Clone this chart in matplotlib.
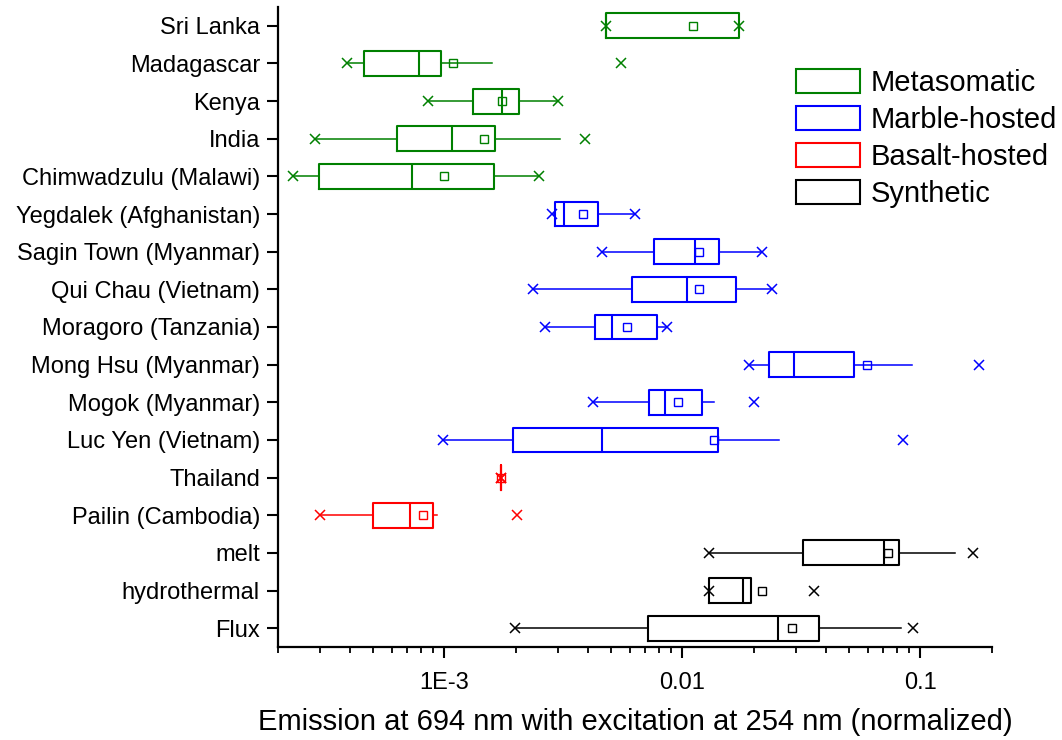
import matplotlib
matplotlib.use("Agg")
import matplotlib.pyplot as plt
from matplotlib.patches import Patch
import numpy as np

plt.rcParams['font.family'] = ['Liberation Sans', 'DejaVu Sans']

categories = ["Sri Lanka", "Madagascar", "Kenya", "India", "Chimwadzulu (Malawi)",
              "Yegdalek (Afghanistan)", "Sagin Town (Myanmar)", "Qui Chau (Vietnam)",
              "Moragoro (Tanzania)", "Mong Hsu (Myanmar)", "Mogok (Myanmar)",
              "Luc Yen (Vietnam)", "Thailand", "Pailin (Cambodia)",
              "melt", "hydrothermal", "Flux"]
groups = ["Metasomatic"] * 5 + ["Marble-hosted"] * 7 + ["Basalt-hosted"] * 2 + ["Synthetic"] * 3

vmin   = [4.77e-3, 3.89e-4, 8.52e-4, 2.86e-4, 2.32e-4,
          2.83e-3, 4.58e-3, 2.36e-3, 2.65e-3, 0.01906, 4.23e-3, 9.90e-4,
          1.736e-3, 3.00e-4,
          0.01295, 0.0130, 1.98e-3]
whislo = [4.77e-3, 3.89e-4, 8.52e-4, 2.86e-4, 2.32e-4,
          2.83e-3, 4.58e-3, 2.36e-3, 2.65e-3, 0.01906, 4.23e-3, 9.90e-4,
          1.736e-3, 3.00e-4,
          0.01295, 0.0130, 1.98e-3]
q1     = [4.77e-3, 4.60e-4, 1.316e-3, 6.33e-4, 2.98e-4,
          2.93e-3, 7.61e-3, 6.13e-3, 4.30e-3, 0.02312, 7.21e-3, 1.944e-3,
          1.736e-3, 5.00e-4,
          0.03214, 0.0130, 7.15e-3]
median = [4.77e-3, 7.85e-4, 1.747e-3, 1.074e-3, 7.30e-4,
          3.18e-3, 0.01131, 0.01043, 5.07e-3, 0.02937, 8.44e-3, 4.59e-3,
          1.736e-3, 7.17e-4,
          0.07039, 0.01794, 0.02532]
q3     = [0.01736, 9.71e-4, 2.066e-3, 1.628e-3, 1.617e-3,
          4.41e-3, 0.01430, 0.01686, 7.85e-3, 0.05250, 0.01214, 0.01413,
          1.736e-3, 8.99e-4,
          0.0816, 0.01944, 0.03752]
whishi = [0.01736, 1.58e-3, 3.013e-3, 3.065e-3, 2.49e-3,
          6.33e-3, 0.02156, 0.02382, 8.65e-3, 0.0920, 0.01363, 0.02556,
          1.736e-3, 9.29e-4,
          0.1400, 0.01944, 0.0827]
vmax   = [0.01736, 5.51e-3, 3.013e-3, 3.91e-3, 2.49e-3,
          6.33e-3, 0.02156, 0.02382, 8.65e-3, 0.1759, 0.01995, 0.0848,
          1.736e-3, 2.026e-3,
          0.1670, 0.03586, 0.0929]
mean   = [0.01106, 1.088e-3, 1.74e-3, 1.473e-3, 9.94e-4,
          3.83e-3, 0.01173, 0.01174, 5.87e-3, 0.05953, 9.57e-3, 0.01363,
          1.736e-3, 8.14e-4,
          0.0730, 0.02156, 0.02883]

group_colors = {"Metasomatic": "#008000", "Marble-hosted": "#0000FF",
                "Basalt-hosted": "#FF0000", "Synthetic": "#000000"}
legend_order = ["Metasomatic", "Marble-hosted", "Basalt-hosted", "Synthetic"]

fig = plt.figure(figsize=(10.62, 7.40), dpi=100)
ax = fig.add_axes([278/1062, 1 - 647/740, (992 - 278)/1062, (647 - 7)/740])

n = len(categories)
positions = np.arange(n, 0, -1)

for i in range(n):
    c = group_colors[groups[i]]
    st = dict(med=median[i], q1=q1[i], q3=q3[i], whislo=whislo[i], whishi=whishi[i],
              mean=mean[i], fliers=np.array([vmin[i], vmax[i]]), label=categories[i])
    ax.bxp([st], positions=[positions[i]], vert=False, widths=0.66,
           showmeans=True, showcaps=False, showfliers=True, patch_artist=False,
           boxprops=dict(color=c, linewidth=1.5),
           medianprops=dict(color=c, linewidth=1.5),
           whiskerprops=dict(color=c, linewidth=1.1),
           flierprops=dict(marker='x', markeredgecolor=c, markersize=7.5, markeredgewidth=1.1,
                           linestyle='none'),
           meanprops=dict(marker='s', markerfacecolor='none', markeredgecolor=c,
                          markersize=6, markeredgewidth=1.0))

ax.set_xscale('log')
ax.set_xlim(2e-4, 0.2)
ax.set_ylim(0.5, n + 0.5)
ax.set_yticks(positions)
ax.set_yticklabels(categories, fontsize=17)

ax.set_xticks([1e-3, 1e-2, 1e-1])
ax.set_xticklabels(["1E-3", "0.01", "0.1"], fontsize=17)
ax.xaxis.set_minor_locator(matplotlib.ticker.LogLocator(base=10, subs=np.arange(2, 10), numticks=20))
ax.xaxis.set_minor_formatter(matplotlib.ticker.NullFormatter())

ax.tick_params(axis='both', which='major', direction='out', length=8, width=1.5, colors='black')
ax.tick_params(axis='x', which='minor', direction='out', length=4.5, width=1.3)
ax.tick_params(axis='x', which='major', pad=10)
ax.tick_params(axis='y', which='major', pad=5)

for s in ['top', 'right']:
    ax.spines[s].set_visible(False)
for s in ['left', 'bottom']:
    ax.spines[s].set_linewidth(1.6)

ax.set_xlabel("Emission at 694 nm with excitation at 254 nm (normalized)", fontsize=21, labelpad=10)

handles = [Patch(facecolor='white', edgecolor=group_colors[g], linewidth=1.5, label=g) for g in legend_order]
fig.legend(handles=handles, loc='upper left', bbox_to_anchor=(796/1062, 1 - 69/740),
           fontsize=21, frameon=False, handlelength=2.2, handleheight=0.9,
           handletextpad=0.35, labelspacing=0.3, borderpad=0, borderaxespad=0)

fig.savefig("out.png", dpi=100)
